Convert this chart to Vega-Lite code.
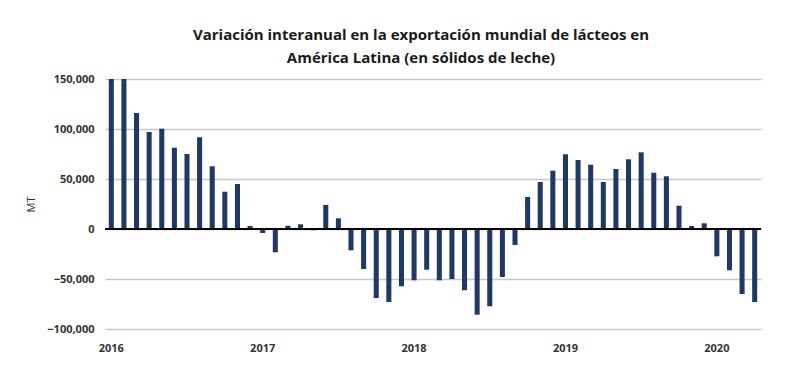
{
  "$schema": "https://vega.github.io/schema/vega-lite/v6.json",
  "autosize": {"type": "none"},
  "width": 656,
  "height": 250,
  "padding": {"left": 105, "top": 79, "right": 39, "bottom": 62},
  "background": "white",
  "config": {"view": {"stroke": null}, "font": "Open Sans"},
  "title": {
    "text": ["Variación interanual en la exportación mundial de lácteos en", "América Latina (en sólidos de leche)"],
    "fontSize": 15,
    "fontWeight": "bold",
    "font": "Open Sans",
    "color": "#1a1a1a",
    "lineHeight": 23,
    "offset": 7,
    "dx": -12,
    "anchor": "middle"
  },
  "data": {
    "values": [
      {"month": "2016-01", "value": 150000}, {"month": "2016-02", "value": 150000}, {"month": "2016-03", "value": 116000}, {"month": "2016-04", "value": 97000},
      {"month": "2016-05", "value": 100300}, {"month": "2016-06", "value": 81300}, {"month": "2016-07", "value": 75000}, {"month": "2016-08", "value": 91700},
      {"month": "2016-09", "value": 62700}, {"month": "2016-10", "value": 37300}, {"month": "2016-11", "value": 45000}, {"month": "2016-12", "value": 3000},
      {"month": "2017-01", "value": -4000}, {"month": "2017-02", "value": -23300}, {"month": "2017-03", "value": 3300}, {"month": "2017-04", "value": 4700},
      {"month": "2017-05", "value": -1300}, {"month": "2017-06", "value": 24000}, {"month": "2017-07", "value": 10700}, {"month": "2017-08", "value": -21300},
      {"month": "2017-09", "value": -40000}, {"month": "2017-10", "value": -69000}, {"month": "2017-11", "value": -73000}, {"month": "2017-12", "value": -57300},
      {"month": "2018-01", "value": -51300}, {"month": "2018-02", "value": -40700}, {"month": "2018-03", "value": -51300}, {"month": "2018-04", "value": -50000},
      {"month": "2018-05", "value": -61300}, {"month": "2018-06", "value": -85700}, {"month": "2018-07", "value": -77300}, {"month": "2018-08", "value": -48000},
      {"month": "2018-09", "value": -16000}, {"month": "2018-10", "value": 32000}, {"month": "2018-11", "value": 47000}, {"month": "2018-12", "value": 58300},
      {"month": "2019-01", "value": 74700}, {"month": "2019-02", "value": 69000}, {"month": "2019-03", "value": 64300}, {"month": "2019-04", "value": 47000},
      {"month": "2019-05", "value": 60000}, {"month": "2019-06", "value": 69700}, {"month": "2019-07", "value": 76700}, {"month": "2019-08", "value": 56300},
      {"month": "2019-09", "value": 52700}, {"month": "2019-10", "value": 23300}, {"month": "2019-11", "value": 3000}, {"month": "2019-12", "value": 5700},
      {"month": "2020-01", "value": -27300}, {"month": "2020-02", "value": -41300}, {"month": "2020-03", "value": -65000}, {"month": "2020-04", "value": -73000}
    ]
  },
  "layer": [
    {
      "mark": {"type": "bar", "color": "#1f3864"},
      "encoding": {
        "x": {
          "field": "month", "type": "ordinal",
          "scale": {"paddingInner": 0.6, "paddingOuter": 0.3},
          "axis": {
            "title": null, "domain": false, "ticks": false, "labelAngle": 0,
            "labelOverlap": false,
            "labelExpr": "slice(datum.value,5)=='01' ? slice(datum.value,0,4) : ''",
            "labelFont": "Open Sans", "labelFontSize": 11, "labelFontWeight": "bold",
            "labelColor": "#333333", "labelPadding": 13
          }
        },
        "y": {
          "field": "value", "type": "quantitative",
          "scale": {"domain": [-100000, 150000], "nice": false},
          "axis": {
            "title": "MT", "titleFontWeight": "normal", "titleFontSize": 11, "titleColor": "#333333",
            "titlePadding": 10, "titleFont": "Open Sans",
            "values": [-100000, -50000, 0, 50000, 100000, 150000],
            "format": ",d", "domain": false, "ticks": false,
            "grid": true, "gridColor": "#c8c8c8", "gridWidth": 1.5,
            "labelFont": "Open Sans", "labelFontSize": 11, "labelFontWeight": "bold",
            "labelColor": "#333333", "labelPadding": 11
          }
        }
      }
    },
    {
      "mark": {"type": "rule", "color": "#000000", "strokeWidth": 1.5},
      "encoding": {"y": {"datum": 0}}
    }
  ]
}
